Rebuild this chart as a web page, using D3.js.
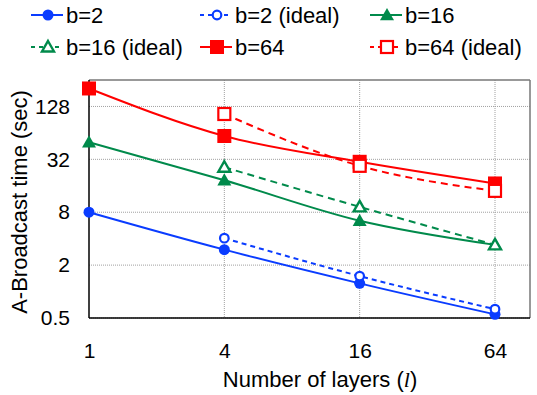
<!DOCTYPE html>
<html>
<head>
<meta charset="utf-8">
<script src="https://cdn.jsdelivr.net/npm/d3@7"></script>
<style>
  body { margin: 0; background: #fff; }
  svg text { font-family: "Liberation Sans", Arial, sans-serif; fill: #000; }
</style>
</head>
<body>
<div id="chart"></div>
<script>
// data
var layers = [1, 4, 16, 64];
var xTicks = [1, 4, 16, 64];
var yTicks = [0.5, 2, 8, 32, 128];

var b2 = [8, 3.0, 1.24, 0.55];
var b2Ideal = [null, 4.05, 1.5, 0.63];
var b16 = [50, 18.5, 6.4, 3.4];
var b16Ideal = [null, 26, 9.2, 3.4];
var b64 = [205, 59, 30, 17];
var b64Ideal = [null, 105, 27, 14];

var seriesNames = ["b=2", "b=2 (ideal)", "b=16", "b=16 (ideal)", "b=64", "b=64 (ideal)"];

var blue = "#0a3cff", green = "#008a4b", red = "#ff0000";

var series = [
  { name: seriesNames[0], vals: b2, color: blue, dash: null, shape: "circle", open: false },
  { name: seriesNames[1], vals: b2Ideal, color: blue, dash: "5,4", shape: "circle", open: true },
  { name: seriesNames[2], vals: b16, color: green, dash: null, shape: "triangle", open: false },
  { name: seriesNames[3], vals: b16Ideal, color: green, dash: "7,5", shape: "triangle", open: true },
  { name: seriesNames[4], vals: b64, color: red, dash: null, shape: "square", open: false },
  { name: seriesNames[5], vals: b64Ideal, color: red, dash: "7,5", shape: "square", open: true }
];

var W = 537, H = 395;
var pLeft = 89, pRight = 530, pTop = 80, pBottom = 318;

var svg = d3.select("#chart").append("svg").attr("width", W).attr("height", H);

var x = d3.scaleLog().base(2).domain([1, 64]).range([89, 495]);
var y = d3.scaleLog().base(2).domain([0.5, 256]).range([pBottom, pTop]);

// grid
var grid = svg.append("g");
grid.selectAll(".gy").data(yTicks).enter().append("line")
  .attr("x1", pLeft).attr("x2", pRight)
  .attr("y1", d => y(d)).attr("y2", d => y(d))
  .attr("stroke", "#a0a0a0").attr("stroke-width", 1).attr("stroke-dasharray", "1,1");
grid.selectAll(".gx").data(xTicks.slice(1)).enter().append("line")
  .attr("x1", d => x(d)).attr("x2", d => x(d))
  .attr("y1", pTop).attr("y2", pBottom)
  .attr("stroke", "#a0a0a0").attr("stroke-width", 1).attr("stroke-dasharray", "1,1");

// frame
svg.append("line").attr("x1", pLeft).attr("x2", pRight).attr("y1", pTop).attr("y2", pTop)
  .attr("stroke", "#777").attr("stroke-width", 1.5);
svg.append("line").attr("x1", pRight).attr("x2", pRight).attr("y1", pTop).attr("y2", pBottom)
  .attr("stroke", "#777").attr("stroke-width", 1.5);

// axes
var xAxis = svg.append("g").attr("transform", `translate(0, ${pBottom})`)
  .call(d3.axisBottom(x).tickValues(xTicks).tickFormat(d3.format("d")).tickSize(0).tickPadding(25));
xAxis.select(".domain").attr("d", `M${pLeft},0H${pRight}`).attr("stroke", "#000").attr("stroke-width", 1.5);
xAxis.selectAll("text").style("font-size", "21px");

var yAxis = svg.append("g").attr("transform", `translate(${pLeft}, 0)`)
  .call(d3.axisLeft(y).tickValues(yTicks).tickFormat(d => d).tickSize(0).tickPadding(19));
yAxis.select(".domain").attr("d", `M0,${pBottom}V${pTop}`).attr("stroke", "#000").attr("stroke-width", 1.5);
yAxis.selectAll("text").style("font-size", "21px");

// markers
function drawMarker(g, s, cx, cy) {
  var fill = s.open ? "#fff" : s.color;
  if (s.shape == "circle") {
    g.append("circle").attr("cx", cx).attr("cy", cy).attr("r", s.open ? 4.3 : 5.5)
      .attr("fill", fill).attr("stroke", s.color).attr("stroke-width", s.open ? 2.2 : 0);
  } else if (s.shape == "triangle") {
    var r = s.open ? 6 : 7;
    g.append("path")
      .attr("d", `M${cx},${cy - r}L${cx + r},${cy + r * 0.75}L${cx - r},${cy + r * 0.75}Z`)
      .attr("fill", fill).attr("stroke", s.color).attr("stroke-width", s.open ? 2.4 : 0);
  } else {
    var h = s.open ? 6 : 7;
    g.append("rect").attr("x", cx - h).attr("y", cy - h).attr("width", 2 * h).attr("height", 2 * h)
      .attr("fill", fill).attr("stroke", s.color).attr("stroke-width", s.open ? 2.2 : 0);
  }
}

var line = d3.line()
  .defined(d => d.v != null)
  .x(d => x(d.l)).y(d => y(d.v))
  .curve(d3.curveMonotoneX);

series.forEach(function (s) {
  var pts = layers.map((l, i) => ({ l: l, v: s.vals[i] }));
  var g = svg.append("g");
  g.append("path").datum(pts.filter(p => p.v != null))
    .attr("d", line).attr("fill", "none")
    .attr("stroke", s.color).attr("stroke-width", 2)
    .attr("stroke-dasharray", s.dash);
  pts.filter(p => p.v != null).forEach(p => drawMarker(g, s, x(p.l), y(p.v)));
});

// legend
var legX = [31, 200, 370], legY = [15, 47];
series.forEach(function (s, i) {
  var lx = legX[i % 3], ly = legY[Math.floor(i / 3)];
  var g = svg.append("g");
  g.append("line").attr("x1", lx).attr("x2", lx + 32).attr("y1", ly).attr("y2", ly)
    .attr("stroke", s.color).attr("stroke-width", 2)
    .attr("stroke-dasharray", s.dash ? "4,4" : null);
  drawMarker(g, s, lx + 17, ly);
  g.append("text").attr("x", lx + 35).attr("y", ly + 7.5)
    .style("font-size", "22px").text(s.name);
});

// axis titles
svg.append("text")
  .attr("transform", `translate(27, ${(pTop + pBottom) / 2 + 3}) rotate(-90)`)
  .attr("text-anchor", "middle").style("font-size", "22px")
  .text("A-Broadcast time (sec)");

var xt = svg.append("text")
  .attr("x", 320).attr("y", 387)
  .attr("text-anchor", "middle").style("font-size", "22px");
xt.append("tspan").text("Number of layers (");
xt.append("tspan").style("font-family", "Liberation Serif, serif").style("font-style", "italic").text("l");
xt.append("tspan").text(")");
</script>
</body>
</html>
